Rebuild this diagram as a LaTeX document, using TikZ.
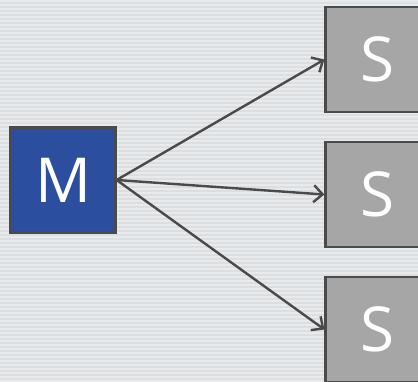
\documentclass[tikz,border=0pt]{standalone}
\usepackage{fontspec}
\newfontfamily\boxfont{Open Sans}
\usetikzlibrary{arrows.meta}

\definecolor{bgback}{HTML}{DCDFE2}
\definecolor{bgline}{HTML}{E8EAEC}
\definecolor{edgegray}{HTML}{4A4A4A}
\definecolor{masterblue}{HTML}{2B4F9E}
\definecolor{slavegray}{HTML}{A6A6A6}

\tikzset{
	unit/.style = {draw = edgegray, line width = 2.2pt, minimum width = 105pt, minimum height = 105pt,
		inner sep = 0pt, text = white, font = \boxfont\fontsize{62}{62}\selectfont},
	master/.style = {unit, fill = masterblue},
	slave/.style = {unit, fill = slavegray},
	link/.style = {draw = edgegray, line width = 2.4pt, -{Straight Barb[length = 9pt, width = 17pt]}}
}

\begin{document}
\begin{tikzpicture}[x = 1pt, y = -1pt]
	\clip (0,0) rectangle (418,382);
	\fill[bgback] (0,0) rectangle (418,382);
	\foreach \y in {0,4,...,380}
		\fill[bgline] (0,\y) rectangle (418,\y+2);

	\node[master](M) at (63,180){M};
	\node[slave](S1) at (378,59.5){S};
	\node[slave](S2) at (378,194.5){S};
	\node[slave](S3) at (378,329.5){S};

	\draw[link] (M.east) -- (S1.west);
	\draw[link] (M.east) -- (S2.west);
	\draw[link] (M.east) -- (S3.west);
\end{tikzpicture}
\end{document}
